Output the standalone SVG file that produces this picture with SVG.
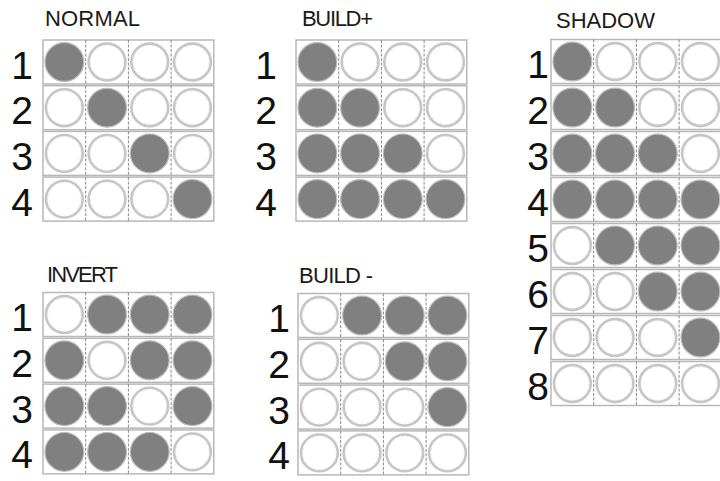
<svg xmlns="http://www.w3.org/2000/svg" xmlns:xlink="http://www.w3.org/1999/xlink" width="720" height="481" viewBox="0 0 720 481">
<style>
.lbl{font-family:"Liberation Sans",Arial,sans-serif;font-size:22px;fill:#1a1a1a}
.num{font-family:"Liberation Sans",Arial,sans-serif;font-size:39px;fill:#111;text-anchor:middle}
.row{fill:#fff;stroke:#b8b8b8;stroke-width:1.5}
.sep{stroke:#8a8a8a;stroke-width:1;stroke-dasharray:3 1.5}
</style>
<defs>
<g id="on"><circle r="19.4" fill="#808080" stroke="#bcbcbc" stroke-width="1.2"/></g>
<g id="off"><circle r="18.4" fill="#fff" stroke="#c6c6c6" stroke-width="2.6"/><circle r="16.6" fill="none" stroke="#e2e2e2" stroke-width="0.8" stroke-dasharray="2 3"/></g>
<g id="rowbox"><rect class="row" x="0" y="0" width="170.8" height="44"/><line class="sep" x1="42.7" y1="0" x2="42.7" y2="44"/><line class="sep" x1="85.4" y1="0" x2="85.4" y2="44"/><line class="sep" x1="128.1" y1="0" x2="128.1" y2="44"/></g>
</defs>
<rect width="720" height="481" fill="#fff"/>

<g id="normal">
<text class="lbl" x="45" y="26" textLength="95">NORMAL</text>
<g transform="translate(43,40)">
<g transform="translate(0,0)"><use xlink:href="#rowbox"/><text class="num" x="-21" y="38.5">1</text><use xlink:href="#on" x="21.35" y="22"/><use xlink:href="#off" x="64.05" y="22"/><use xlink:href="#off" x="106.75" y="22"/><use xlink:href="#off" x="149.45" y="22"/></g>
<g transform="translate(0,45.7)"><use xlink:href="#rowbox"/><text class="num" x="-21" y="38.5">2</text><use xlink:href="#off" x="21.35" y="22"/><use xlink:href="#on" x="64.05" y="22"/><use xlink:href="#off" x="106.75" y="22"/><use xlink:href="#off" x="149.45" y="22"/></g>
<g transform="translate(0,91.4)"><use xlink:href="#rowbox"/><text class="num" x="-21" y="38.5">3</text><use xlink:href="#off" x="21.35" y="22"/><use xlink:href="#off" x="64.05" y="22"/><use xlink:href="#on" x="106.75" y="22"/><use xlink:href="#off" x="149.45" y="22"/></g>
<g transform="translate(0,137.1)"><use xlink:href="#rowbox"/><text class="num" x="-21" y="38.5">4</text><use xlink:href="#off" x="21.35" y="22"/><use xlink:href="#off" x="64.05" y="22"/><use xlink:href="#off" x="106.75" y="22"/><use xlink:href="#on" x="149.45" y="22"/></g>
</g>
</g>

<g id="build-plus">
<text class="lbl" x="302" y="26" textLength="71">BUILD+</text>
<g transform="translate(296,40)">
<g transform="translate(0,0)"><use xlink:href="#rowbox"/><text class="num" x="-30" y="38.5">1</text><use xlink:href="#on" x="21.35" y="22"/><use xlink:href="#off" x="64.05" y="22"/><use xlink:href="#off" x="106.75" y="22"/><use xlink:href="#off" x="149.45" y="22"/></g>
<g transform="translate(0,45.7)"><use xlink:href="#rowbox"/><text class="num" x="-30" y="38.5">2</text><use xlink:href="#on" x="21.35" y="22"/><use xlink:href="#on" x="64.05" y="22"/><use xlink:href="#off" x="106.75" y="22"/><use xlink:href="#off" x="149.45" y="22"/></g>
<g transform="translate(0,91.4)"><use xlink:href="#rowbox"/><text class="num" x="-30" y="38.5">3</text><use xlink:href="#on" x="21.35" y="22"/><use xlink:href="#on" x="64.05" y="22"/><use xlink:href="#on" x="106.75" y="22"/><use xlink:href="#off" x="149.45" y="22"/></g>
<g transform="translate(0,137.1)"><use xlink:href="#rowbox"/><text class="num" x="-30" y="38.5">4</text><use xlink:href="#on" x="21.35" y="22"/><use xlink:href="#on" x="64.05" y="22"/><use xlink:href="#on" x="106.75" y="22"/><use xlink:href="#on" x="149.45" y="22"/></g>
</g>
</g>

<g id="shadow">
<text class="lbl" x="556" y="28" textLength="99">SHADOW</text>
<g transform="translate(551,39.5)">
<g transform="translate(0,0)"><use xlink:href="#rowbox"/><text class="num" x="-13" y="38.5">1</text><use xlink:href="#on" x="21.35" y="22"/><use xlink:href="#off" x="64.05" y="22"/><use xlink:href="#off" x="106.75" y="22"/><use xlink:href="#off" x="149.45" y="22"/></g>
<g transform="translate(0,46)"><use xlink:href="#rowbox"/><text class="num" x="-13" y="38.5">2</text><use xlink:href="#on" x="21.35" y="22"/><use xlink:href="#on" x="64.05" y="22"/><use xlink:href="#off" x="106.75" y="22"/><use xlink:href="#off" x="149.45" y="22"/></g>
<g transform="translate(0,92)"><use xlink:href="#rowbox"/><text class="num" x="-13" y="38.5">3</text><use xlink:href="#on" x="21.35" y="22"/><use xlink:href="#on" x="64.05" y="22"/><use xlink:href="#on" x="106.75" y="22"/><use xlink:href="#off" x="149.45" y="22"/></g>
<g transform="translate(0,138)"><use xlink:href="#rowbox"/><text class="num" x="-13" y="38.5">4</text><use xlink:href="#on" x="21.35" y="22"/><use xlink:href="#on" x="64.05" y="22"/><use xlink:href="#on" x="106.75" y="22"/><use xlink:href="#on" x="149.45" y="22"/></g>
<g transform="translate(0,184)"><use xlink:href="#rowbox"/><text class="num" x="-13" y="38.5">5</text><use xlink:href="#off" x="21.35" y="22"/><use xlink:href="#on" x="64.05" y="22"/><use xlink:href="#on" x="106.75" y="22"/><use xlink:href="#on" x="149.45" y="22"/></g>
<g transform="translate(0,230)"><use xlink:href="#rowbox"/><text class="num" x="-13" y="38.5">6</text><use xlink:href="#off" x="21.35" y="22"/><use xlink:href="#off" x="64.05" y="22"/><use xlink:href="#on" x="106.75" y="22"/><use xlink:href="#on" x="149.45" y="22"/></g>
<g transform="translate(0,276)"><use xlink:href="#rowbox"/><text class="num" x="-13" y="38.5">7</text><use xlink:href="#off" x="21.35" y="22"/><use xlink:href="#off" x="64.05" y="22"/><use xlink:href="#off" x="106.75" y="22"/><use xlink:href="#on" x="149.45" y="22"/></g>
<g transform="translate(0,322)"><use xlink:href="#rowbox"/><text class="num" x="-13" y="38.5">8</text><use xlink:href="#off" x="21.35" y="22"/><use xlink:href="#off" x="64.05" y="22"/><use xlink:href="#off" x="106.75" y="22"/><use xlink:href="#off" x="149.45" y="22"/></g>
</g>
</g>

<g id="invert">
<text class="lbl" x="47" y="282" textLength="71">INVERT</text>
<g transform="translate(43,292.5)">
<g transform="translate(0,0)"><use xlink:href="#rowbox"/><text class="num" x="-21" y="38.5">1</text><use xlink:href="#off" x="21.35" y="22"/><use xlink:href="#on" x="64.05" y="22"/><use xlink:href="#on" x="106.75" y="22"/><use xlink:href="#on" x="149.45" y="22"/></g>
<g transform="translate(0,45.8)"><use xlink:href="#rowbox"/><text class="num" x="-21" y="38.5">2</text><use xlink:href="#on" x="21.35" y="22"/><use xlink:href="#off" x="64.05" y="22"/><use xlink:href="#on" x="106.75" y="22"/><use xlink:href="#on" x="149.45" y="22"/></g>
<g transform="translate(0,91.6)"><use xlink:href="#rowbox"/><text class="num" x="-21" y="38.5">3</text><use xlink:href="#on" x="21.35" y="22"/><use xlink:href="#on" x="64.05" y="22"/><use xlink:href="#off" x="106.75" y="22"/><use xlink:href="#on" x="149.45" y="22"/></g>
<g transform="translate(0,137.4)"><use xlink:href="#rowbox"/><text class="num" x="-21" y="38.5">4</text><use xlink:href="#on" x="21.35" y="22"/><use xlink:href="#on" x="64.05" y="22"/><use xlink:href="#on" x="106.75" y="22"/><use xlink:href="#off" x="149.45" y="22"/></g>
</g>
</g>

<g id="build-minus">
<text class="lbl" x="299" y="283" textLength="74">BUILD -</text>
<g transform="translate(298,293.5)">
<g transform="translate(0,0)"><use xlink:href="#rowbox"/><text class="num" x="-19" y="38.5">1</text><use xlink:href="#off" x="21.35" y="22"/><use xlink:href="#on" x="64.05" y="22"/><use xlink:href="#on" x="106.75" y="22"/><use xlink:href="#on" x="149.45" y="22"/></g>
<g transform="translate(0,45.8)"><use xlink:href="#rowbox"/><text class="num" x="-19" y="38.5">2</text><use xlink:href="#off" x="21.35" y="22"/><use xlink:href="#off" x="64.05" y="22"/><use xlink:href="#on" x="106.75" y="22"/><use xlink:href="#on" x="149.45" y="22"/></g>
<g transform="translate(0,91.6)"><use xlink:href="#rowbox"/><text class="num" x="-19" y="38.5">3</text><use xlink:href="#off" x="21.35" y="22"/><use xlink:href="#off" x="64.05" y="22"/><use xlink:href="#off" x="106.75" y="22"/><use xlink:href="#on" x="149.45" y="22"/></g>
<g transform="translate(0,137.4)"><use xlink:href="#rowbox"/><text class="num" x="-19" y="38.5">4</text><use xlink:href="#off" x="21.35" y="22"/><use xlink:href="#off" x="64.05" y="22"/><use xlink:href="#off" x="106.75" y="22"/><use xlink:href="#off" x="149.45" y="22"/></g>
</g>
</g>

<g id="connectors"/>
</svg>
